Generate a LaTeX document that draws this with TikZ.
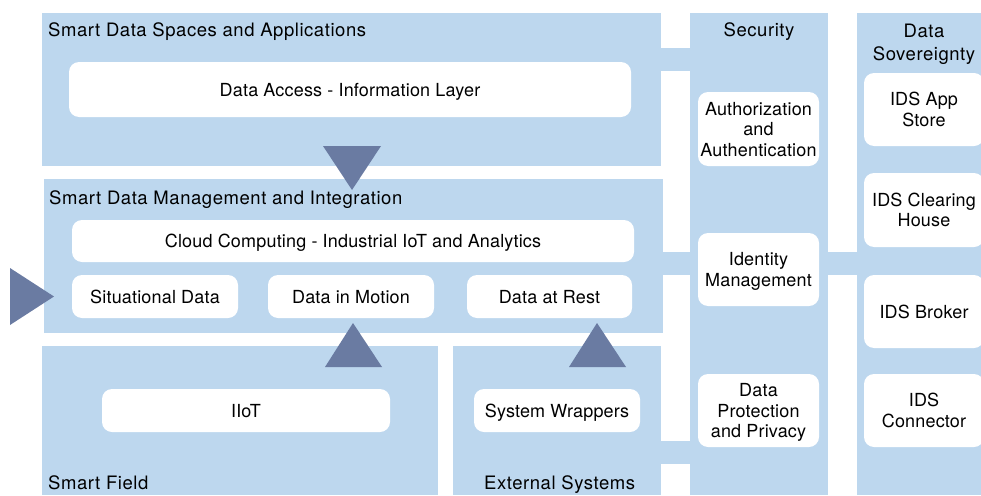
\documentclass[tikz,border=0pt]{standalone}
\usepackage{fontspec}
\setmainfont{TeX Gyre Heros}
\newfontfamily\titlefont[LetterSpace=3]{TeX Gyre Heros}
\newfontfamily\boxfont[LetterSpace=1]{TeX Gyre Heros}
\definecolor{panelblue}{RGB}{189,215,238}
\definecolor{arrowblue}{RGB}{106,123,162}
\tikzset{
  panel/.style={fill=panelblue},
  box/.style={fill=white, rounded corners=10pt, align=center, inner sep=0pt,
    text depth=0pt, font=\boxfont\fontsize{18}{20.5}\selectfont},
  title/.style={inner sep=0pt, align=center, font=\titlefont\fontsize{18.5}{23}\selectfont},
  marker/.style={fill=arrowblue},
}
\begin{document}
\begin{tikzpicture}[x=1pt, y=-1pt]
    \useasboundingbox (0,0) rectangle (981,495);

    % Panels
    \fill[panel] (42,13) rectangle (661,166);
    \fill[panel] (44,179) rectangle (663,333);
    \fill[panel] (42,346) rectangle (438,495);
    \fill[panel] (453,346) rectangle (661,495);
    \fill[panel] (690,13) rectangle (828,495);
    \fill[panel] (857,13) rectangle (981,495);

    % Links to the side columns
    \fill[panel] (660,48) rectangle (691,71);
    \fill[panel] (662,252) rectangle (691,275);
    \fill[panel] (660,441) rectangle (691,464);
    \fill[panel] (827,252) rectangle (858,275);

    % Titles
    \node[title, anchor=base west] (tspaces) at (48,37) {Smart Data Spaces and Applications};
    \node[title, anchor=base west] (tmgmt) at (49,204) {Smart Data Management and Integration};
    \node[title, anchor=base west] (tfield) at (48,489) {Smart Field};
    \node[title, anchor=base west] (texternal) at (484,489) {External Systems};
    \node[title, anchor=base] (tsecurity) at (759,37) {Security};
    \node[title] (tsovereignty) at (924,44) {Data\\Sovereignty};

    % Boxes
    \node[box, minimum width=562, minimum height=55] (access) at (350,89.5) {Data Access - Information Layer};
    \node[box, minimum width=562, minimum height=42] (cloud) at (353,241) {Cloud Computing - Industrial IoT and Analytics};
    \node[box, minimum width=166, minimum height=43] (situational) at (155,296.5) {Situational Data};
    \node[box, minimum width=166, minimum height=43] (motion) at (351,296.5) {Data in Motion};
    \node[box, minimum width=165, minimum height=43] (rest) at (549.5,296.5) {Data at Rest};
    \node[box, minimum width=288, minimum height=43] (iiot) at (246,410.5) {IIoT};
    \node[box, minimum width=166, minimum height=43] (wrappers) at (557,410.5) {System Wrappers};

    \node[box, minimum width=121, minimum height=74] (auth) at (758.5,129) {Authorization\\and\\Authentication};
    \node[box, minimum width=121, minimum height=73] (identity) at (758.5,269.5) {Identity\\Management};
    \node[box, minimum width=121, minimum height=73] (protection) at (758.5,410.5) {Data\\Protection\\and Privacy};

    \node[box, minimum width=120, minimum height=73] (appstore) at (924,109.5) {IDS App\\Store};
    \node[box, minimum width=120, minimum height=74] (clearing) at (924,210) {IDS Clearing\\House};
    \node[box, minimum width=120, minimum height=73] (broker) at (924,311.5) {IDS Broker};
    \node[box, minimum width=120, minimum height=73] (connector) at (924,410.5) {IDS\\Connector};

    % Flow markers
    \fill[marker] (323,146) -- (381,146) -- (352,190) -- cycle;
    \fill[marker] (10,268) -- (54,296.5) -- (10,325) -- cycle;
    \fill[marker] (325,367) -- (382,367) -- (353,323) -- cycle;
    \fill[marker] (569,367) -- (626,367) -- (597,323) -- cycle;

\end{tikzpicture}
\end{document}
